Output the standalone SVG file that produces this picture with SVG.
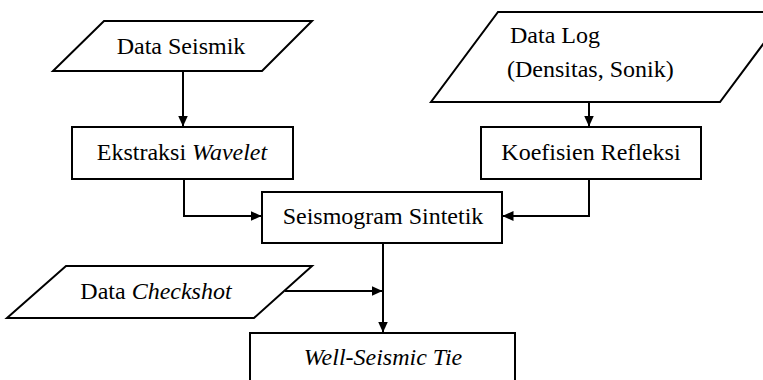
<svg xmlns="http://www.w3.org/2000/svg" width="763" height="380" viewBox="0 0 763 380">
<style>
.s{fill:#fff;stroke:#000;stroke-width:2}
.t{font-family:"Liberation Serif","Times New Roman",serif;font-size:24px;fill:#000;text-anchor:middle}
.i{font-style:italic}
.c{fill:none;stroke:#000;stroke-width:2}
</style>
<defs>
<marker id="ah" markerWidth="11" markerHeight="10" refX="10.5" refY="5" orient="auto" markerUnits="userSpaceOnUse">
<path d="M0,0 L11,5 L0,10 Z" fill="#000"/>
</marker>
</defs>
<rect width="763" height="380" fill="#fff"/>
<g id="connectors">
<path class="c" d="M183,71 V126" marker-end="url(#ah)"/>
<path class="c" d="M589,102 V126" marker-end="url(#ah)"/>
<path class="c" d="M184,179 V216 H261" marker-end="url(#ah)"/>
<path class="c" d="M589,179 V216 H503" marker-end="url(#ah)"/>
<path class="c" d="M383,243 V332" marker-end="url(#ah)"/>
<path class="c" d="M285,291 H382" marker-end="url(#ah)"/>
</g>
<g id="data-seismik">
<polygon class="s" points="104,21 312,21 262,71 53,71"/>
<text class="t" x="181" y="54">Data Seismik</text>
</g>
<g id="data-log">
<polygon class="s" points="498,12 787,12 720,102 431,102"/>
<text class="t" x="510" y="43" style="text-anchor:start">Data Log</text>
<text class="t" x="507" y="77" style="text-anchor:start">(Densitas, Sonik)</text>
</g>
<g id="ekstraksi-wavelet">
<rect class="s" x="72" y="127" width="221" height="52"/>
<text class="t" x="182" y="160">Ekstraksi <tspan class="i">Wavelet</tspan></text>
</g>
<g id="koefisien-refleksi">
<rect class="s" x="481" y="127" width="220" height="52"/>
<text class="t" x="591" y="160">Koefisien Refleksi</text>
</g>
<g id="seismogram-sintetik">
<rect class="s" x="262" y="192" width="240" height="51"/>
<text class="t" x="383" y="224">Seismogram Sintetik</text>
</g>
<g id="data-checkshot">
<polygon class="s" points="66,266 312,266 254,318 7,318"/>
<text class="t" x="156" y="299">Data <tspan class="i">Checkshot</tspan></text>
</g>
<g id="well-seismic-tie">
<rect class="s" x="250" y="333" width="265" height="60"/>
<text class="t i" x="383" y="365">Well-Seismic Tie</text>
</g>
</svg>
